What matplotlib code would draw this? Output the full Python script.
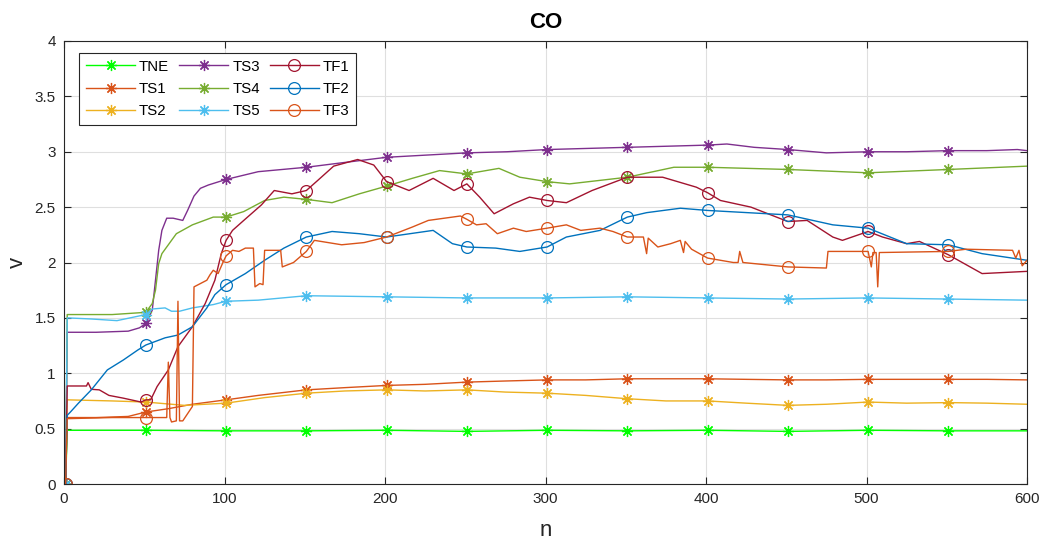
import matplotlib
matplotlib.use("Agg")
import matplotlib.pyplot as plt

plt.rcParams['font.family'] = ['Liberation Sans', 'DejaVu Sans']

# ---------------- data ----------------
TNE_n = [1, 2, 51, 101, 151, 201, 251, 301, 351, 401, 451, 501, 551, 600]
TNE_v = [0, 0.485, 0.485, 0.48, 0.48, 0.485, 0.475, 0.485, 0.48, 0.485, 0.475, 0.485, 0.48, 0.48]

TS1_n = [1, 2, 20, 40, 51, 65, 80, 101, 121, 151, 175, 201, 225, 251, 275, 301, 325, 351, 375,
         401, 425, 451, 475, 501, 525, 551, 575, 600]
TS1_v = [0, 0.60, 0.60, 0.61, 0.65, 0.68, 0.72, 0.76, 0.80, 0.85, 0.87, 0.89, 0.90, 0.92, 0.93,
         0.94, 0.94, 0.95, 0.95, 0.95, 0.945, 0.94, 0.94, 0.945, 0.945, 0.945, 0.945, 0.94]

TS2_n = [1, 2, 30, 51, 75, 101, 125, 151, 175, 201, 225, 251, 275, 301, 325, 351, 375, 401,
         425, 451, 475, 501, 525, 551, 575, 600]
TS2_v = [0, 0.76, 0.75, 0.74, 0.71, 0.73, 0.78, 0.82, 0.84, 0.85, 0.84, 0.85, 0.83, 0.82,
         0.80, 0.77, 0.75, 0.75, 0.73, 0.71, 0.72, 0.74, 0.73, 0.735, 0.73, 0.72]

TS3_n = [1, 2, 20, 40, 47, 51, 55, 57, 59, 61, 64, 68, 74, 77, 81, 85, 90, 101, 121, 151, 173,
         201, 226, 251, 276, 301, 326, 351, 376, 401, 413, 430, 451, 475, 501, 525, 551, 575, 594, 600]
TS3_v = [0, 1.37, 1.37, 1.38, 1.41, 1.45, 1.57, 1.84, 2.11, 2.29, 2.40, 2.40, 2.38, 2.47, 2.60,
         2.67, 2.70, 2.75, 2.82, 2.86, 2.90, 2.95, 2.97, 2.99, 3.00, 3.02, 3.03, 3.04, 3.05, 3.06,
         3.07, 3.04, 3.02, 2.99, 3.00, 3.00, 3.01, 3.01, 3.02, 3.01]

TS4_n = [1, 2, 30, 51, 55, 57, 59, 61, 64, 70, 80, 93, 101, 112, 125, 137, 151, 167, 184, 201,
         217, 234, 251, 271, 284, 301, 315, 351, 380, 401, 451, 501, 551, 600]
TS4_v = [0, 1.53, 1.53, 1.55, 1.63, 1.75, 1.99, 2.08, 2.14, 2.26, 2.34, 2.41, 2.41, 2.46, 2.56,
         2.59, 2.57, 2.54, 2.62, 2.69, 2.76, 2.83, 2.80, 2.85, 2.77, 2.73, 2.71, 2.77, 2.86, 2.86,
         2.84, 2.81, 2.84, 2.87]

TS5_n = [1, 2, 17, 33, 51, 55, 63, 67, 72, 80, 93, 101, 121, 151, 201, 251, 301, 351, 401, 451,
         501, 551, 600]
TS5_v = [0, 1.50, 1.49, 1.475, 1.53, 1.58, 1.59, 1.56, 1.56, 1.59, 1.62, 1.65, 1.66, 1.70, 1.69,
         1.68, 1.68, 1.69, 1.68, 1.67, 1.68, 1.67, 1.66]

TF1_n = [1, 2, 14, 15, 17, 22, 28, 37, 48, 51, 54, 58, 65, 71, 80, 88, 94, 98, 101, 105, 112,
         123, 131, 142, 151, 158, 168, 183, 193, 201, 215, 230, 243, 251, 259, 268, 280, 290, 301,
         313, 329, 351, 373, 394, 401, 409, 428, 451, 463, 479, 485, 501, 510, 525, 533, 551, 572, 600]
TF1_v = [0, 0.885, 0.885, 0.915, 0.855, 0.85, 0.80, 0.775, 0.74, 0.76, 0.76, 0.88, 1.03, 1.24,
         1.42, 1.63, 1.84, 2.08, 2.20, 2.29, 2.38, 2.52, 2.65, 2.62, 2.65, 2.74, 2.87, 2.93, 2.88,
         2.73, 2.65, 2.76, 2.65, 2.71, 2.59, 2.44, 2.53, 2.59, 2.56, 2.54, 2.65, 2.77, 2.77, 2.68,
         2.63, 2.56, 2.50, 2.37, 2.38, 2.23, 2.20, 2.28, 2.23, 2.17, 2.19, 2.07, 1.90, 1.92]

TF2_n = [1, 2, 4, 9, 17, 27, 37, 46, 51, 63, 71, 80, 89, 94, 101, 113, 125, 137, 151, 167, 184,
         201, 230, 242, 251, 269, 284, 301, 313, 334, 351, 363, 384, 401, 451, 479, 501, 525, 551,
         572, 600]
TF2_v = [0, 0.62, 0.65, 0.73, 0.85, 1.03, 1.12, 1.21, 1.255, 1.32, 1.345, 1.42, 1.59, 1.71, 1.80,
         1.90, 2.02, 2.13, 2.23, 2.28, 2.26, 2.23, 2.29, 2.17, 2.14, 2.13, 2.10, 2.14, 2.23, 2.29,
         2.41, 2.45, 2.49, 2.47, 2.43, 2.34, 2.31, 2.17, 2.16, 2.08, 2.02]

TF3_n = [1, 2, 30, 51, 64, 65, 66, 67, 70, 71, 72, 74, 80, 81, 85, 89, 91, 93, 96, 99, 101, 105,
         109, 113, 118, 119, 122, 124, 125, 135, 136, 143, 151, 156, 173, 187, 201, 217, 227, 247,
         251, 257, 263, 270, 280, 288, 301, 313, 322, 334, 342, 351, 361, 363, 364, 370, 378, 384,
         386, 387, 391, 401, 417, 420, 421, 423, 437, 451, 475, 476, 501, 503, 504, 506, 507, 508,
         551, 562, 591, 593, 595, 597, 600]
TF3_v = [0, 0.59, 0.60, 0.60, 0.60, 1.10, 0.60, 0.56, 0.57, 1.65, 0.57, 0.57, 0.70, 1.78, 1.81,
         1.84, 1.89, 1.93, 1.90, 2.00, 2.06, 2.11, 2.10, 2.13, 2.13, 1.78, 1.81, 1.80, 2.11, 2.11,
         1.96, 2.00, 2.10, 2.20, 2.16, 2.18, 2.23, 2.32, 2.38, 2.42, 2.39, 2.34, 2.35, 2.26, 2.31,
         2.28, 2.31, 2.34, 2.29, 2.31, 2.28, 2.23, 2.23, 2.08, 2.22, 2.14, 2.17, 2.20, 2.09, 2.19,
         2.12, 2.04, 2.00, 2.00, 2.10, 2.00, 1.98, 1.96, 1.95, 2.10, 2.10, 1.96, 2.09, 2.09, 1.78,
         2.09, 2.10, 2.12, 2.11, 2.04, 2.11, 1.97, 2.02]

labels = ['TNE', 'TS1', 'TS2', 'TS3', 'TS4', 'TS5', 'TF1', 'TF2', 'TF3']
series = [(TNE_n, TNE_v), (TS1_n, TS1_v), (TS2_n, TS2_v), (TS3_n, TS3_v), (TS4_n, TS4_v),
          (TS5_n, TS5_v), (TF1_n, TF1_v), (TF2_n, TF2_v), (TF3_n, TF3_v)]
colors = ['#00FF00', '#D95319', '#EDB120', '#7E2F8E', '#77AC30', '#4DBEEE',
          '#A2142F', '#0072BD', '#D95319']
marker_n = [1, 51, 101, 151, 201, 251, 301, 351, 401, 451, 501, 551]

x_ticks = [0, 100, 200, 300, 400, 500, 600]
y_ticks = [0, 0.5, 1, 1.5, 2, 2.5, 3, 3.5, 4]
y_ticklabels = ['0', '0.5', '1', '1.5', '2', '2.5', '3', '3.5', '4']

# ---------------- figure ----------------
fig = plt.figure(figsize=(10.4, 5.44), dpi=100)
ax = fig.add_axes([64 / 1040, 1 - 484 / 544, (1027 - 64) / 1040, (484 - 41) / 544])

asterisk = (8, 2, 0)
for (n, v), lab, c in zip(series, labels, colors):
    idx = [i for i, x in enumerate(n) if x in marker_n]
    if lab.startswith('TF'):
        ax.plot(n, v, color=c, lw=1.0, marker='o', ms=8.5, mfc='none', mec=c, mew=0.9,
                markevery=idx, label=lab)
    else:
        ax.plot(n, v, color=c, lw=1.0, marker=asterisk, ms=8, mec=c, mew=0.9,
                markevery=idx, label=lab)

ax.set_xlim(0, 600)
ax.set_ylim(0, 4)
ax.set_xticks(x_ticks)
ax.set_yticks(y_ticks)
ax.set_yticklabels(y_ticklabels)
ax.grid(True, color='#dfdfdf', lw=0.8)
ax.set_axisbelow(True)
for s in ax.spines.values():
    s.set_color('#262626')
    s.set_linewidth(0.8)
ax.tick_params(direction='in', top=True, right=True, length=5, width=0.8,
               colors='#262626', labelsize=11, pad=6)

ax.set_title('CO', fontsize=16, fontweight='bold', pad=9)
ax.set_xlabel('n', fontsize=16, labelpad=10, color='#262626')
ax.set_ylabel('v', fontsize=16, labelpad=5, color='#262626')

leg = ax.legend(ncol=3, loc='upper left', bbox_to_anchor=(0.0156, 0.973), borderaxespad=0,
                fancybox=False, framealpha=1, edgecolor='#262626', fontsize=10.8,
                handlelength=3.3, handletextpad=0.25, columnspacing=0.65, labelspacing=0.55,
                borderpad=0.45)
leg.get_frame().set_linewidth(0.8)

fig.savefig('out.png', dpi=100)
